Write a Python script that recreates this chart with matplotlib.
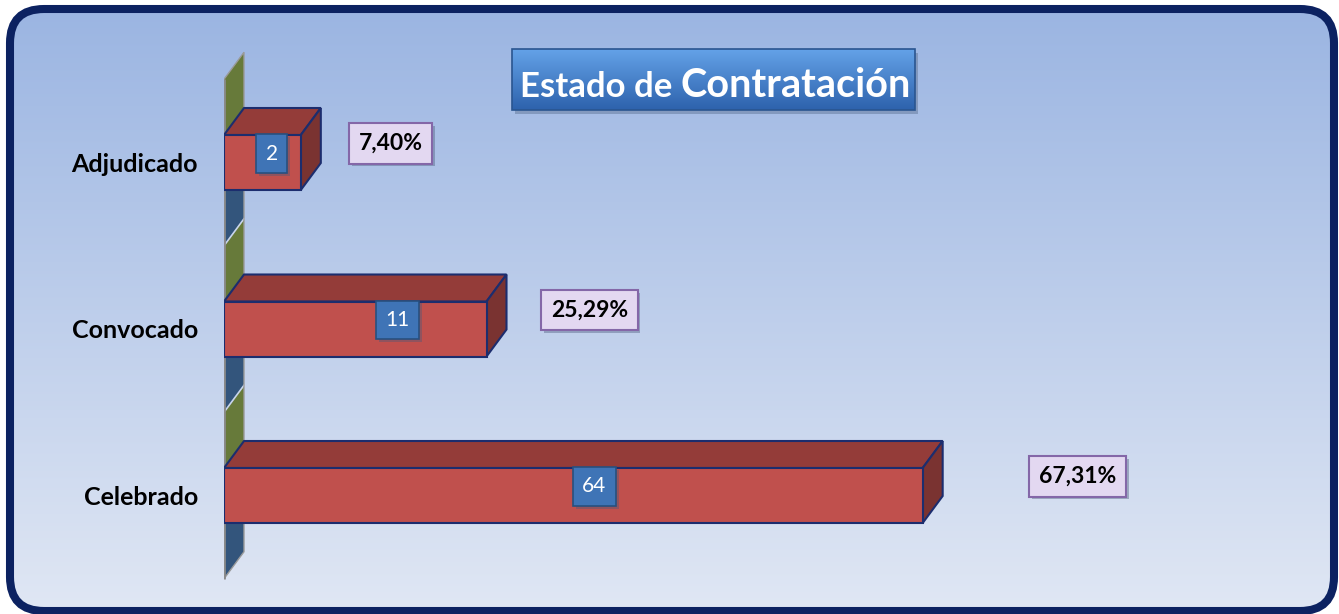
import numpy as np
import matplotlib.pyplot as plt
import matplotlib.patheffects as pe
from matplotlib.patches import FancyBboxPatch, Polygon, Rectangle
from matplotlib.colors import to_rgb

# Data
categories = ['Adjudicado', 'Convocado', 'Celebrado']
counts = [2, 11, 64]
percents = [7.40, 25.29, 67.31]
pct_labels = ['7,40%', '25,29%', '67,31%']

# layout of the labels (manually placed in the original)
count_frac = [0.62, 0.66, 0.53]      # position of count box along the bar
pct_offset = [70, 83, 135]           # px right of the bar end

plt.rcParams['font.family'] = ['Lato', 'DejaVu Sans']

W, H = 1339, 614
fig = plt.figure(figsize=(W / 100, H / 100), dpi=100)
fig.patch.set_facecolor('white')


def vgrad(c1, c2, n=256):
    a, b = np.array(to_rgb(c1)), np.array(to_rgb(c2))
    t = np.linspace(0, 1, n)[:, None]
    return (a * (1 - t) + b * t)[:, None, :]


shadow = [pe.SimplePatchShadow(offset=(2, -2), shadow_rgbFace='#4a5878', alpha=0.4), pe.Normal()]

# Background panel in pixel coordinates
bg = fig.add_axes([0, 0, 1, 1])
bg.set_xlim(0, W)
bg.set_ylim(H, 0)
bg.axis('off')

frame = FancyBboxPatch((10, 9), 1324, 602, boxstyle='round,pad=0,rounding_size=34',
                       fc='none', ec='#0c2261', lw=5.8, zorder=3)
bg.add_patch(frame)
im = bg.imshow(vgrad('#9bb5e2', '#e0e7f4'), extent=(10, 1334, 611, 9),
               aspect='auto', origin='upper', zorder=1)
im.set_clip_path(frame)

# Title box
bg.add_patch(Rectangle((515, 53), 403, 61, fc='#5a6f90', alpha=0.45, lw=0, zorder=4))
tbox = Rectangle((512, 49), 403, 61, fc='none', ec='#2a5590', lw=1.2, zorder=6)
bg.add_patch(tbox)
tim = bg.imshow(vgrad('#64a2e8', '#2d62ac'), extent=(512, 915, 110, 49),
                aspect='auto', origin='upper', zorder=5)
tim.set_clip_path(tbox)
bg.text(672, 97, 'Estado de', ha='right', va='baseline', color='white',
        fontsize=25, fontweight='bold', zorder=7)
bg.text(680, 97, 'Contratación', ha='left', va='baseline', color='white',
        fontsize=28.5, fontweight='bold', zorder=7)
bg.set_xlim(0, W)
bg.set_ylim(H, 0)

# Main axes (x in percent, y category index)
ax = fig.add_axes([224 / W, (H - 590) / H, 1038 / W, 550 / H])
ax.set_xlim(0, 100)
ax.set_ylim(-(590 - 495.5) / 166.5, 2 + (162.5 - 40) / 166.5)
ax.patch.set_alpha(0)
for s in ax.spines.values():
    s.set_visible(False)

ypos = np.arange(len(categories))[::-1]
dx = 20 / 10.38      # depth offset in data units
dy = 27 / 166.5
hh = 27.5 / 166.5    # half bar height

# side wall
for yc in ypos:
    ax.add_patch(Polygon([(0, yc), (0, yc + 0.5), (dx, yc + 0.5 + dy), (dx, yc + dy)],
                         closed=True, fc='#677a3a', ec='none', zorder=1))
    ax.add_patch(Polygon([(0, yc - 0.5), (0, yc), (dx, yc + dy), (dx, yc - 0.5 + dy)],
                         closed=True, fc='#33557c', ec='none', zorder=1))
for yb in ypos[1:] + 0.5:
    ax.plot([0, dx], [yb, yb + dy], color='#c9d5ec', lw=1.2, zorder=2)
lo, hi = ypos.min() - 0.5, ypos.max() + 0.5
ax.add_patch(Polygon([(0, lo), (0, hi), (dx, hi + dy), (dx, lo + dy)], closed=True,
                     fc='none', ec='#9a9a9a', lw=1, zorder=2))
ax.plot([0, 0], [lo, hi], color='#8a8a8a', lw=2, zorder=2, solid_capstyle='butt')

# 3D bars
edge = '#1c2d6e'
for v, yc in zip(percents, ypos):
    ax.add_patch(Polygon([(0, yc + hh), (v, yc + hh), (v + dx, yc + hh + dy), (dx, yc + hh + dy)],
                         closed=True, fc='#943c39', ec=edge, lw=1.5, zorder=3))
    ax.add_patch(Polygon([(v, yc - hh), (v + dx, yc - hh + dy), (v + dx, yc + hh + dy), (v, yc + hh)],
                         closed=True, fc='#7a3331', ec=edge, lw=1.5, zorder=3))
    ax.add_patch(Rectangle((0, yc - hh), v, 2 * hh, fc='#c0504d', ec=edge, lw=1.5, zorder=4))

# count labels
for c, v, yc, f in zip(counts, percents, ypos, count_frac):
    t = ax.text(v * f, yc + 9 / 166.5, str(c), ha='center', va='center', color='white',
                fontsize=15, zorder=6,
                bbox=dict(boxstyle='square,pad=0.45', fc='#3f74b6', ec='#28507f', lw=1.2))
    t.get_bbox_patch().set_path_effects(shadow)

# percent labels
for lbl, v, yc, off in zip(pct_labels, percents, ypos, pct_offset):
    t = ax.annotate(lbl, xy=(v + dx, yc), xytext=(off * 0.72, 19 * 0.72),
                    textcoords='offset points', ha='center', va='center',
                    fontsize=16.5, fontweight='bold', color='black', zorder=6,
                    bbox=dict(boxstyle='square,pad=0.42', fc='#e3d8f1', ec='#8467a8', lw=1.5))
    t.get_bbox_patch().set_path_effects(shadow)

ax.set_xticks([])
ax.set_yticks(ypos, categories)
ax.tick_params(axis='y', length=0, pad=26 * 0.72)
for t in ax.get_yticklabels():
    t.set_fontweight('bold')
    t.set_fontsize(18)

fig.savefig('out.png', dpi=100)
